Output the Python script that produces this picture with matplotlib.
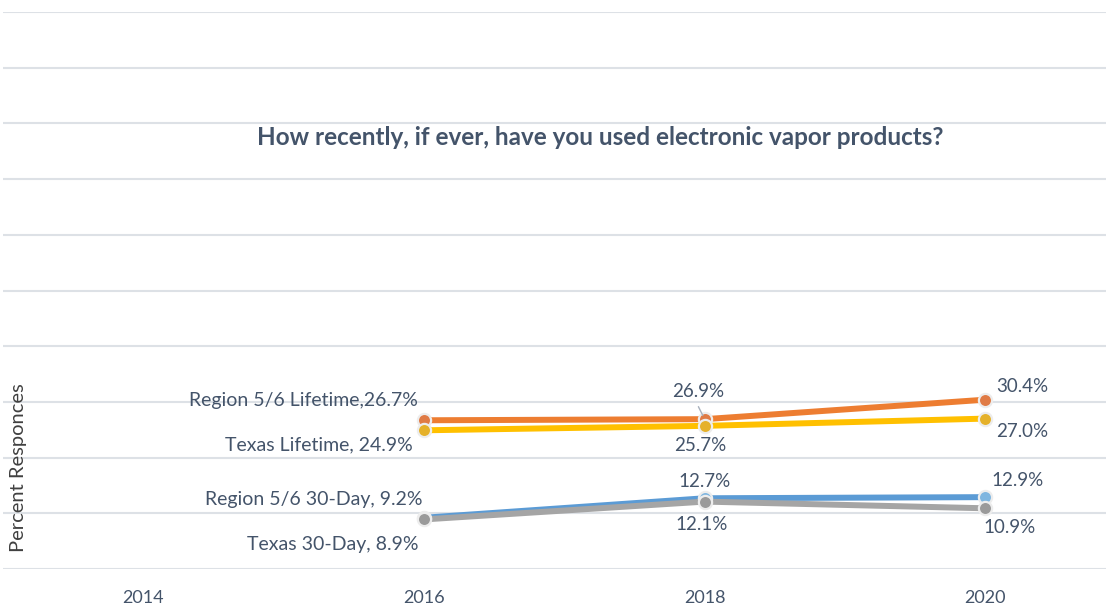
import matplotlib.pyplot as plt

# data
years = [2016, 2018, 2020]
region_life = [26.7, 26.9, 30.4]
texas_life = [24.9, 25.7, 27.0]
region_30 = [9.2, 12.7, 12.9]
texas_30 = [8.9, 12.1, 10.9]
tick_years = [2014, 2016, 2018, 2020]

txt_col = '#44546A'
plt.rcParams['font.family'] = ['Lato', 'DejaVu Sans']

fig = plt.figure(figsize=(11.06, 6.09), dpi=100)
ax = fig.add_axes([3 / 1106, 40 / 609, 1 - 3 / 1106, 557 / 609])

series = [
    (region_life, '#ED7D31', '#E07B45'),
    (texas_life, '#FFC000', '#E5B12A'),
    (region_30, '#5B9BD5', '#7FB6E0'),
    (texas_30, '#A5A5A5', '#9A9A9A'),
]
for vals, col, mcol in series:
    ax.plot(years, vals, color=col, lw=4.3, solid_capstyle='butt', zorder=3)
    ax.plot(years, vals, ls='none', marker='o', ms=9.5, mfc=mcol,
            mec='#EDEDED', mew=1.6, zorder=4)

# data labels: (value, year, text, dx, dy, ha) with offsets in pixels
labels = [
    (region_life[0], 2016, 'Region 5/6 Lifetime,26.7%', -6, 20, 'right'),
    (texas_life[0], 2016, 'Texas Lifetime, 24.9%', -11, -15, 'right'),
    (region_30[0], 2016, 'Region 5/6 30-Day, 9.2%', -1, 18, 'right'),
    (texas_30[0], 2016, 'Texas 30-Day, 8.9%', -5, -25, 'right'),
    (region_life[1], 2018, '26.9%', -6, 28, 'center'),
    (texas_life[1], 2018, '25.7%', -4, -20, 'center'),
    (region_30[1], 2018, '12.7%', 0, 17, 'center'),
    (texas_30[1], 2018, '12.1%', -3, -23, 'center'),
    (region_life[2], 2020, '30.4%', 11, 13, 'left'),
    (texas_life[2], 2020, '27.0%', 11, -13, 'left'),
    (region_30[2], 2020, '12.9%', 6, 17, 'left'),
    (texas_30[2], 2020, '10.9%', -2, -19, 'left'),
]
for v, yr, s, dx, dy, ha in labels:
    fs = 14 if ha == 'right' else 13.5
    ax.annotate(s, (yr, v), xytext=(dx * 0.72, dy * 0.72), textcoords='offset points',
                ha=ha, va='center', fontsize=fs, color=txt_col, zorder=5)

# small leader line for the 26.9% label
ax.annotate('', (2018, region_life[1]), xytext=(-4.5, 9), textcoords='offset points',
            arrowprops=dict(arrowstyle='-', color='#A6B0BC', lw=1, shrinkA=0, shrinkB=3),
            zorder=5)

ax.set_xlim(2013.0, 2020.86)
ax.set_ylim(0, 100)
ax.set_yticks(range(0, 101, 10))
ax.set_yticklabels([])
ax.set_xticks(tick_years)
ax.set_xticklabels([str(y) for y in tick_years], fontsize=13, color=txt_col)
ax.tick_params(length=0, pad=15)
ax.grid(True, axis='y', color='#DDE1E6', lw=1.5)
ax.set_axisbelow(True)
for sp in ax.spines.values():
    sp.set_visible(False)

fig.text(600 / 1106, 1 - 138 / 609, 'How recently, if ever, have you used electronic vapor products?',
         ha='center', va='center', fontsize=17.5, fontweight='bold', color=txt_col)
fig.text(19 / 1106, 1 - 468 / 609, 'Percent Responces', rotation=90,
         ha='center', va='center', fontsize=14.5, color='#404040')

fig.savefig('out.png', dpi=100)
